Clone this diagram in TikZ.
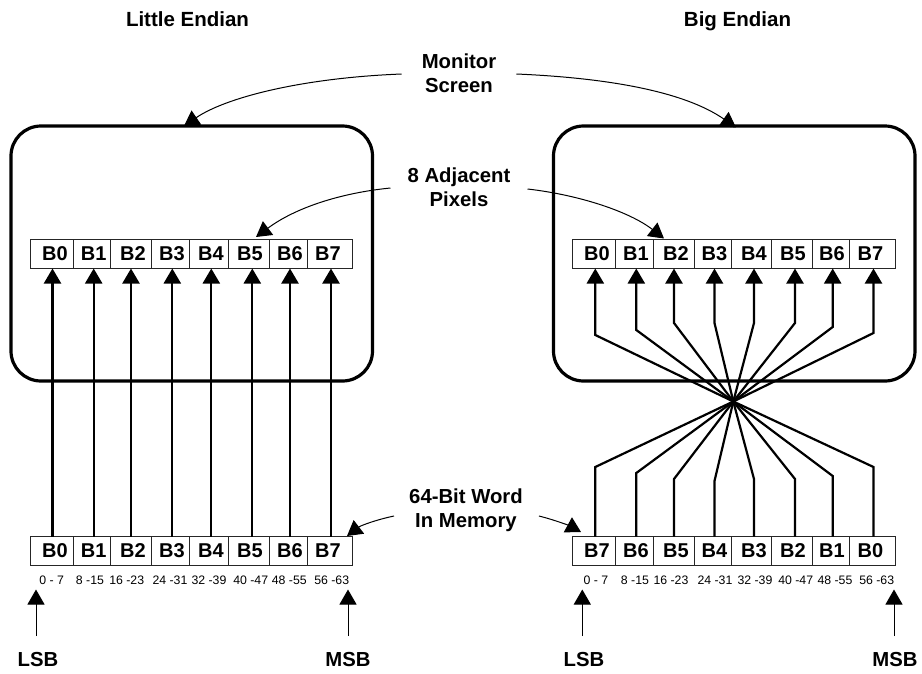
\documentclass[tikz,border=0pt]{standalone}
\usepackage{fontspec}
\setmainfont{Liberation Sans}
\usetikzlibrary{arrows.meta,calc}
\tikzset{
  cell/.style={draw=black!85,line width=0.9pt,rectangle,inner sep=0pt,outer sep=0pt,anchor=north west},
  celltext/.style={font=\fontsize{20}{20}\selectfont\bfseries,inner sep=0pt,anchor=center},
  bitlabel/.style={font=\fontsize{12.3}{12.3}\selectfont,inner sep=0pt,anchor=center},
  title/.style={font=\fontsize{20.5}{20.5}\selectfont\bfseries,inner sep=0pt,anchor=base},
  callout/.style={font=\fontsize{20.3}{24}\selectfont\bfseries,inner sep=0pt,align=center,anchor=center},
  monitor/.style={draw=black,line width=3.2pt,rounded corners=30pt,rectangle,anchor=north west,inner sep=0pt,outer sep=0pt},
  bigtip/.style={-{Triangle[length=15pt,width=17pt]}},
  busline/.style={line width=2.2pt},
  thinline/.style={line width=1pt},
}
\newcommand{\cellrow}[4]{% prefix, y, list x0/x1/tx/label
  \foreach \n/\xa/\xb/\tx/\lab in {#3} {
    \node[cell,minimum width={(\xb-\xa)*1pt},minimum height={#4*1pt}] (#1\n) at (\xa,#2) {};
    \node[celltext] (#1\n t) at (\tx,{#2+#4/2}) {\lab};
  }
}
\begin{document}
\begin{tikzpicture}[x=1pt,y=-1pt]
\useasboundingbox (0,0) rectangle (922,673);
\node[monitor,minimum width=361.5pt,minimum height=255pt] (monL) at (11,126) {};
\node[monitor,minimum width=361.5pt,minimum height=255pt] (monR) at (553.5,126) {};
\node[title] (tL) at (187.5,26) {Little Endian};
\node[title] (tR) at (737.5,26) {Big Endian};
\node[callout] (cMon) at (459,73) {Monitor\\Screen};
\node[callout] (cPix) at (459,187) {8 Adjacent\\Pixels};
\node[callout] (cWord) at (466,510) {64-Bit Word\\In Memory};
\def\listL{0/30.3/73/55/B0,1/73/110.7/93.7/B1,2/110.7/151.7/133/B2,3/151.7/189.3/172/B3,4/189.3/228.7/211/B4,5/228.7/269.3/250/B5,6/269.3/307/290/B6,7/307/352.7/328/B7}
\edef\tmp{\noexpand\cellrow{lt}{239.5}{\listL}{29}}\tmp
\edef\tmp{\noexpand\cellrow{lm}{536.5}{\listL}{28.5}}\tmp
\def\listRt{0/572.7/615.7/597/B0,1/615.7/653.7/636/B1,2/653.7/694.3/676/B2,3/694.3/731.7/714.5/B3,4/731.7/771/754/B4,5/771/812/793/B5,6/812/849.7/832/B6,7/849.7/895.3/870.5/B7}
\def\listRm{0/572.7/615.7/597/B7,1/615.7/653.7/636/B6,2/653.7/694.3/676/B5,3/694.3/731.7/714.5/B4,4/731.7/771/754/B3,5/771/812/793/B2,6/812/849.7/832/B1,7/849.7/895.3/870.5/B0}
\edef\tmp{\noexpand\cellrow{rt}{239.5}{\listRt}{29}}\tmp
\edef\tmp{\noexpand\cellrow{rm}{536.5}{\listRm}{28.5}}\tmp
% left bus
\foreach \i/\x in {0/52.5,1/93.7,2/131,3/172.3,4/211.3,5/252.3,6/290,7/331} {
  \coordinate (xl\i) at (\x,0);
  \draw[busline,bigtip] (xl\i |- lm\i.north) -- (xl\i |- lt\i.south);
}
% right bus
\coordinate (cross) at (733.3,401.5);
\foreach \i/\x/\yt/\yb in {0/595.3/335/467,1/636.3/330/473,2/674/323/479,3/714.5/323/481,4/754/323/479,5/795/323/479,6/832.7/327/476,7/873.5/333/467} {
  \coordinate (xr\i) at (\x,0);
  \draw[busline,bigtip,line join=miter] (cross) -- (\x,\yt) -- (xr\i |- rt\i.south);
  \draw[busline,line join=miter] (cross) -- (\x,\yb) -- (xr\i |- rm\i.north);
}
% bit labels
\foreach \x/\t in {51.7/0 - 7,90/8 -15,126.7/16 -23,170/24 -31,209/32 -39,250.7/40 -47,289.3/48 -55,331.7/56 -63} {
  \node[bitlabel] at (\x,580) {\t};
}
\foreach \x/\t in {596/0 - 7,635/8 -15,671/16 -23,715/24 -31,755/32 -39,795.7/40 -47,835/48 -55,876.7/56 -63} {
  \node[bitlabel] at (\x,580) {\t};
}
\foreach \n/\x/\ax/\t in {a/38/36/LSB,b/348/348/MSB,c/584/582.3/LSB,d/895/894/MSB} {
  \node[title,font=\fontsize{20.3}{20.3}\selectfont\bfseries] (lab\n) at (\x,666) {\t};
  \coordinate (bot\n) at (\ax,636);
  \coordinate (top\n) at (\ax,589.5);
  \draw[thinline,bigtip] (bot\n) -- (top\n);
}
% callouts
\draw[thinline,bigtip] ($(cMon.west)+(-20,1)$) .. controls (300,78) and (225,98) .. (184,126);
\draw[thinline,bigtip] ($(cMon.east)+(20,1)$) .. controls (610,78) and (685,92) .. (736,127.5);
\draw[thinline,bigtip] ($(cPix.west)+(-17,1)$) .. controls (340,193) and (295,208) .. (256,237);
\draw[thinline,bigtip] ($(cPix.east)+(17,2)$) .. controls (580,195) and (630,212) .. (664,238.5);
\draw[thinline,bigtip] ($(cWord.west)+(-15,6)$) .. controls (375,520) and (360,526) .. (347,536);
\draw[thinline,bigtip] ($(cWord.east)+(16,6)$) .. controls (555,520) and (570,526) .. (581,532);
\end{tikzpicture}
\end{document}
